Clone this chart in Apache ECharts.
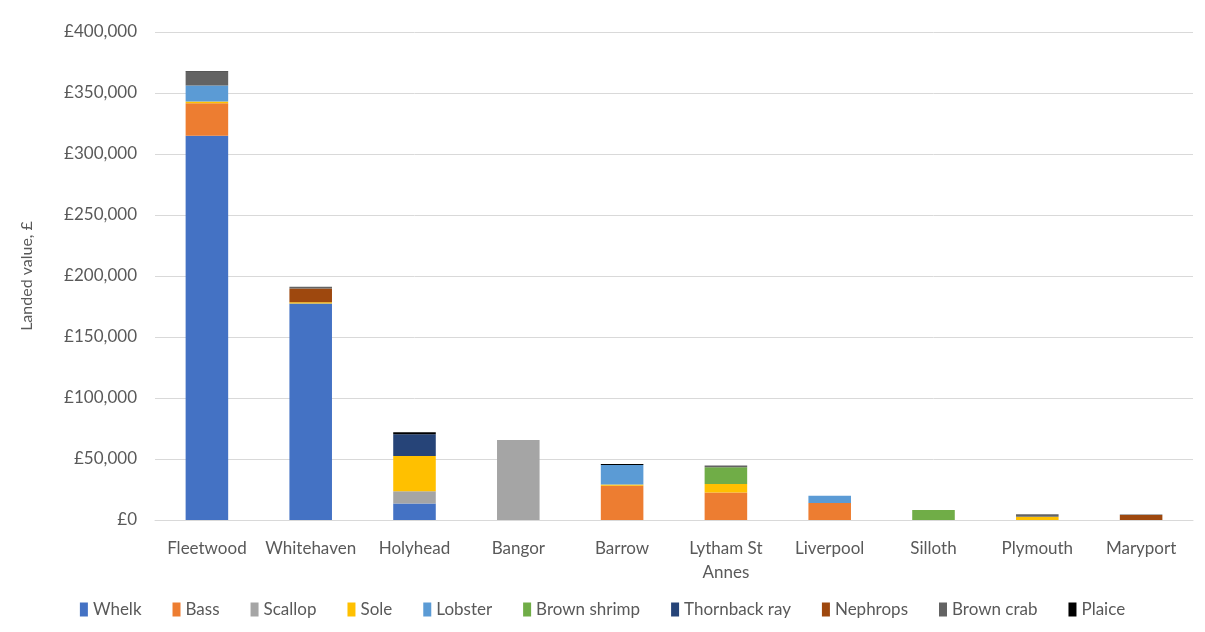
<!DOCTYPE html>
<html>
<head>
<meta charset="utf-8">
<script src="https://cdn.jsdelivr.net/npm/echarts@6/dist/echarts.min.js"></script>
<style>
  html, body { margin: 0; padding: 0; background: #fff; }
  #chart { width: 1205px; height: 632px; }
</style>
</head>
<body>
<div id="chart"></div>
<script>
// ports along the x axis
const ports = ['Fleetwood', 'Whitehaven', 'Holyhead', 'Bangor', 'Barrow', 'Lytham St\nAnnes', 'Liverpool', 'Silloth', 'Plymouth', 'Maryport']

// landed value (£) per species, one entry per port
const whelk        = [315000, 177500, 13500, 0, 0, 0, 0, 0, 0, 0]
const bass         = [26500, 0, 0, 0, 28000, 22500, 14000, 0, 0, 0]
const scallop      = [0, 0, 10000, 65500, 0, 0, 0, 0, 0, 0]
const sole         = [1600, 1000, 29000, 0, 1000, 7000, 0, 0, 2700, 0]
const lobster      = [13000, 0, 0, 0, 16000, 0, 5800, 0, 0, 0]
const brownShrimp  = [0, 0, 0, 0, 0, 13700, 0, 8200, 0, 0]
const thornbackRay = [0, 0, 17800, 0, 0, 0, 0, 0, 0, 0]
const nephrops     = [0, 11200, 0, 0, 0, 0, 0, 0, 0, 4000]
const brownCrab    = [11500, 1500, 0, 0, 0, 1400, 0, 0, 2000, 600]
const plaice       = [500, 0, 1600, 0, 800, 0, 0, 0, 0, 0]

const yTicks = { min: 0, max: 400000, interval: 50000 }

const species = [
  { name: 'Whelk', data: whelk, color: '#4472C4' },
  { name: 'Bass', data: bass, color: '#ED7D31' },
  { name: 'Scallop', data: scallop, color: '#A5A5A5' },
  { name: 'Sole', data: sole, color: '#FFC000' },
  { name: 'Lobster', data: lobster, color: '#5B9BD5' },
  { name: 'Brown shrimp', data: brownShrimp, color: '#70AD47' },
  { name: 'Thornback ray', data: thornbackRay, color: '#264478' },
  { name: 'Nephrops', data: nephrops, color: '#9E480E' },
  { name: 'Brown crab', data: brownCrab, color: '#636363' },
  { name: 'Plaice', data: plaice, color: '#000000' }
]

const font = 'Lato, "Open Sans", sans-serif'

let chart = echarts.init(document.getElementById('chart'))

option = {
  animation: false,
  textStyle: { fontFamily: font },
  grid: { left: 155, right: 12, top: 32, bottom: 112 },
  legend: {
    bottom: 9,
    left: 'center',
    itemWidth: 8,
    itemHeight: 14,
    itemGap: 31,
    icon: 'rect',
    textStyle: { fontFamily: font, fontSize: 17, color: '#595959' },
    data: species.map(s => s.name)
  },
  xAxis: {
    type: 'category',
    data: ports,
    axisLine: { lineStyle: { color: '#d9d9d9' } },
    axisTick: { show: false },
    axisLabel: { interval: 0, color: '#595959', fontSize: 17, margin: 17, lineHeight: 24, fontFamily: font }
  },
  yAxis: {
    type: 'value',
    min: yTicks.min,
    max: yTicks.max,
    interval: yTicks.interval,
    name: 'Landed value, £',
    nameLocation: 'middle',
    nameGap: 120,
    nameRotate: 90,
    nameTextStyle: { color: '#595959', fontSize: 16, fontFamily: font },
    axisLine: { show: false },
    axisTick: { show: false },
    splitLine: { lineStyle: { color: '#d9d9d9' } },
    axisLabel: {
      color: '#595959',
      fontSize: 17,
      margin: 18,
      fontFamily: font,
      formatter: v => '£' + v.toLocaleString('en-GB')
    }
  },
  series: species.map(s => ({
    name: s.name,
    type: 'bar',
    stack: 'total',
    barWidth: '41%',
    data: s.data,
    itemStyle: { color: s.color }
  }))
}

chart.setOption(option)
</script>
</body>
</html>
